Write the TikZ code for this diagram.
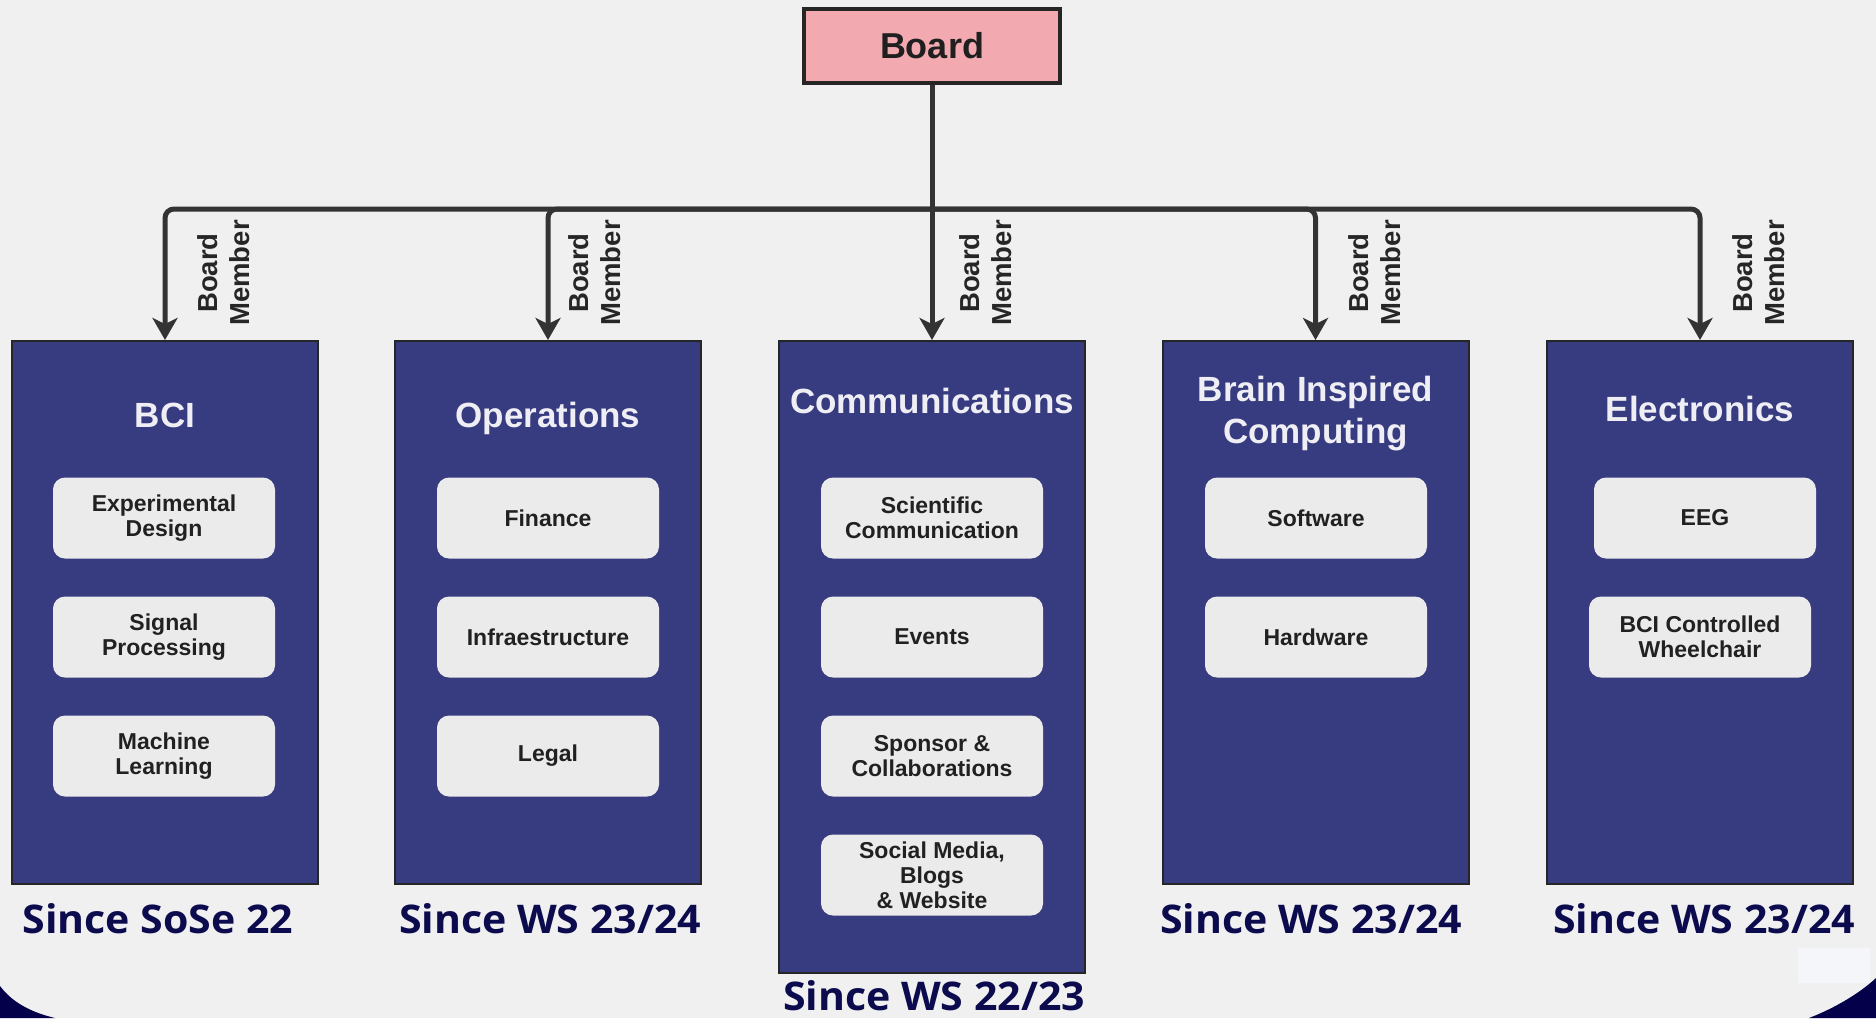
\documentclass[tikz,border=0pt]{standalone}
\usepackage{fontspec}
\setmainfont{Liberation Sans}
\newfontfamily\sincefont[FakeStretch=1.04]{Open Sans}
\usetikzlibrary{arrows.meta}
\definecolor{bg}{HTML}{F0F0F0}
\definecolor{navybox}{HTML}{373B80}
\definecolor{pinkbox}{HTML}{F2A9AF}
\definecolor{itemfill}{HTML}{EBEBEB}
\definecolor{sincecol}{HTML}{0B0B4E}
\definecolor{cornercol}{HTML}{05004A}
\definecolor{linecol}{HTML}{333333}
\definecolor{titlecol}{HTML}{EEEEF4}
\definecolor{patchcol}{HTML}{F5F6FA}
\begin{document}
\begin{tikzpicture}[x=1pt,y=-1pt,
  teambox/.style={draw=black!85, line width=2pt, fill=navybox, minimum width=306pt, inner sep=0pt, anchor=north},
  teamtitle/.style={text=titlecol, font=\fontsize{35}{42}\selectfont\bfseries, align=center, anchor=base, inner sep=0pt},
  itembox/.style={fill=itemfill, rounded corners=12pt, minimum width=222pt, minimum height=81pt, inner sep=0pt, align=center, text=black!87, font=\fontsize{23}{25}\selectfont\bfseries},
  conn/.style={draw=linecol, line width=5pt},
  arrowed/.style={-{Stealth[length=22pt,width=25pt,inset=6pt]}},
  bmlabel/.style={rotate=90, align=center, inner sep=0pt, text=black!85, font=\fontsize{27.5}{32}\selectfont\bfseries},
  sincelabel/.style={anchor=base, inner sep=0pt, text=sincecol, font=\fontsize{39.5}{40}\sincefont\bfseries}
]
\useasboundingbox (0,0) rectangle (1876,1018);
\fill[bg] (0,0) rectangle (1876,1018);
% dark corners
\fill[cornercol] (0,986) .. controls (12,1002) and (30,1012) .. (55,1018) -- (0,1018) -- cycle;
\fill[cornercol] (1809,1018) .. controls (1835,1008) and (1860,993) .. (1876,978) -- (1876,1018) -- cycle;
\fill[patchcol] (1798,948) rectangle (1870,983);

% board
\node[draw=black!85, line width=3.5pt, fill=pinkbox, minimum width=256pt, minimum height=74pt, inner sep=0pt,
      font=\fontsize{36}{40}\selectfont\bfseries, text=black!88] (board) at (932,46) {Board};
\coordinate (jc) at (932,209);

% team boxes
\node[teambox, minimum height=543pt] (bci)  at (165,340) {};
\node[teambox, minimum height=543pt] (ops)  at (548,340) {};
\node[teambox, minimum height=632pt] (comm) at (932,340) {};
\node[teambox, minimum height=543pt] (bic)  at (1315.5,340) {};
\node[teambox, minimum height=543pt] (elec) at (1700,340) {};

% connectors
\draw[conn] (board.south) -- (jc);
\draw[conn, arrowed, rounded corners=9pt] (jc) -| (bci.north);
\draw[conn, arrowed, rounded corners=9pt] (jc) -| (ops.north);
\draw[conn, arrowed] (jc) -- (comm.north);
\draw[conn, arrowed, rounded corners=9pt] (jc) -| (bic.north);
\draw[conn, arrowed, rounded corners=9pt] (jc) -| (elec.north);

% board member labels
\node[bmlabel] (bm1) at (223.5,273) {Board\\Member};
\node[bmlabel] (bm2) at (595,273) {Board\\Member};
\node[bmlabel] (bm3) at (986,273) {Board\\Member};
\node[bmlabel] (bm4) at (1375,273) {Board\\Member};
\node[bmlabel] (bm5) at (1759,273) {Board\\Member};

% titles
\node[teamtitle] (t1) at (165,427) {BCI};
\node[teamtitle] (t2) at (548,427) {Operations};
\node[teamtitle] (t3) at (932,413) {Communications};
\node[teamtitle] (t4a) at (1315.5,401) {Brain Inspired};
\node[teamtitle] (t4b) at (1315.5,443) {Computing};
\node[teamtitle] (t5) at (1700,421) {Electronics};

% items
\node[itembox] (bci1) at (164,518) {Experimental\\Design};
\node[itembox] (bci2) at (164,637) {Signal\\Processing};
\node[itembox] (bci3) at (164,756) {Machine\\Learning};

\node[itembox] (ops1) at (548,518) {Finance};
\node[itembox] (ops2) at (548,637) {Infraestructure};
\node[itembox] (ops3) at (548,756) {Legal};

\node[itembox] (comm1) at (932,518) {Scientific\\Communication};
\node[itembox] (comm2) at (932,637) {Events};
\node[itembox] (comm3) at (932,756) {Sponsor \&\\Collaborations};
\node[itembox] (comm4) at (932,875) {Social Media,\\Blogs\\\& Website};

\node[itembox] (bic1) at (1316,518) {Software};
\node[itembox] (bic2) at (1316,637) {Hardware};

\node[itembox] (elec1) at (1705,518) {EEG};
\node[itembox] (elec2) at (1700,637) {BCI Controlled\\Wheelchair};

% since labels
\node[sincelabel] (s1) at (158,933) {Since SoSe 22};
\node[sincelabel] (s2) at (550,933) {Since WS 23/24};
\node[sincelabel] (s3) at (934,1010) {Since WS 22/23};
\node[sincelabel] (s4) at (1311,933) {Since WS 23/24};
\node[sincelabel] (s5) at (1704,933) {Since WS 23/24};
\end{tikzpicture}
\end{document}
